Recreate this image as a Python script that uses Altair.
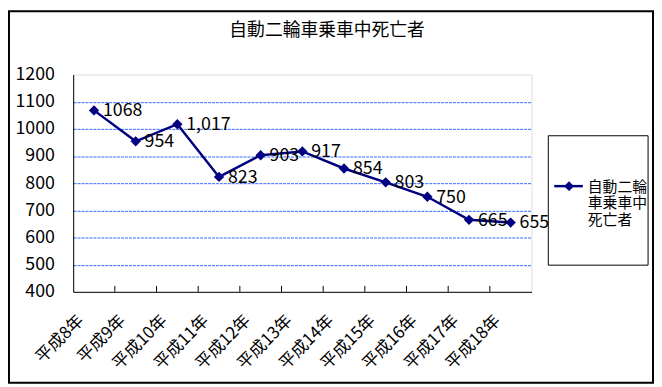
import altair as alt
import pandas as pd

# ---- data ----
categories = ["平成8年", "平成9年", "平成10年", "平成11年", "平成12年", "平成13年",
              "平成14年", "平成15年", "平成16年", "平成17年", "平成18年"]
values = [1068, 954, 1017, 823, 903, 917, 854, 803, 750, 665, 655]
value_labels = ["1068", "954", "1,017", "823", "903", "917", "854", "803", "750", "665", "655"]
y_ticks = [400, 500, 600, 700, 800, 900, 1000, 1100, 1200]
chart_title = "自動二輪車乗車中死亡者"
legend_lines = ["自動二輪", "車乗車中", "死亡者"]

df = pd.DataFrame({"year": categories, "deaths": values, "label": value_labels})
tick_df = pd.DataFrame({"year": categories[1:], "deaths": [400] * (len(categories) - 1)})
one = pd.DataFrame({"k": [0]})

W, H = 464, 220
FONT = "Noto Sans CJK JP"
NAVY = "#000080"

xscale = alt.Scale(type="band", paddingInner=0, paddingOuter=0)
yscale = alt.Scale(domain=[400, 1200], nice=False, zero=False)

x_axis = alt.Axis(title=None, labelAngle=-45, labelAlign="right",
                  labelBaseline="middle", labelPadding=26, labelOffset=-13,
                  labelFontSize=17, labelFont=FONT, labelColor="black",
                  ticks=False, tickSize=0, domainColor="black", domainWidth=1,
                  grid=False, labelOverlap=False)
y_axis = alt.Axis(title=None, values=y_ticks, format="d", labelFontSize=18, labelFont=FONT,
                  labelColor="black", labelPadding=19, ticks=False, tickSize=0,
                  domainColor="black", domainWidth=1, labelOverlap=False, labelFlush=False,
                  grid=True, gridColor="#3366FF", gridDash=[3, 1], gridWidth=1,
                  gridOpacity={"condition": {"test": "datum.value <= 400 || datum.value >= 1200",
                                             "value": 0}, "value": 1})

x_enc = alt.X("year:N", sort=categories, scale=xscale, axis=x_axis)
y_enc = alt.Y("deaths:Q", scale=yscale, axis=y_axis)

border = alt.Chart(one).mark_rect(fill=None, stroke="black", strokeWidth=2).encode(
    x=alt.value(-65), x2=alt.value(587), y=alt.value(-64), y2=alt.value(312))

ticks = alt.Chart(tick_df).mark_rule(color="black", strokeWidth=1).encode(
    x=alt.X("year:N", sort=categories, scale=xscale, axis=x_axis, bandPosition=0),
    y=alt.value(H - 6), y2=alt.value(H))

base = alt.Chart(df)
line = base.mark_line(color=NAVY, strokeWidth=2.5).encode(x=x_enc, y=y_enc)
pts = base.mark_point(shape="diamond", filled=True, size=110, color=NAVY, opacity=1).encode(
    x=x_enc, y=y_enc)
labels = base.mark_text(align="left", baseline="middle", dx=9, dy=1, fontSize=18,
                        font=FONT, color="black").encode(x=x_enc, y=y_enc, text="label:N")

title = alt.Chart(one).mark_text(fontSize=18, font=FONT, color="black",
                                 align="center", baseline="middle").encode(
    x=alt.value(257), y=alt.value(-44), text=alt.value(chart_title))

leg_box = alt.Chart(one).mark_rect(fill="white", stroke="black", strokeWidth=1).encode(
    x=alt.value(481), x2=alt.value(582), y=alt.value(62), y2=alt.value(193))
leg_line = alt.Chart(one).mark_rule(color=NAVY, strokeWidth=2.5).encode(
    x=alt.value(487), x2=alt.value(516), y=alt.value(113))
leg_pt = alt.Chart(one).mark_point(shape="diamond", filled=True, size=100, color=NAVY,
                                   opacity=1).encode(x=alt.value(502), y=alt.value(113))
leg_texts = [
    alt.Chart(one).mark_text(fontSize=15, font=FONT, color="black", align="left",
                             baseline="middle").encode(
        x=alt.value(521), y=alt.value(114 + 16.5 * i), text=alt.value(t))
    for i, t in enumerate(legend_lines)
]

chart = alt.layer(border, ticks, line, pts, labels, title, leg_box, leg_line, leg_pt, *leg_texts).properties(
    width=W, height=H,
    autosize=alt.AutoSizeParams(type="none"),
    padding={"left": 66, "top": 65, "right": 124, "bottom": 94},
).configure_view(fill="#CCFFFF", stroke="#808080", strokeWidth=1).configure(background="white")

chart.save("out.html", embed_options={"renderer": "svg", "actions": False})
